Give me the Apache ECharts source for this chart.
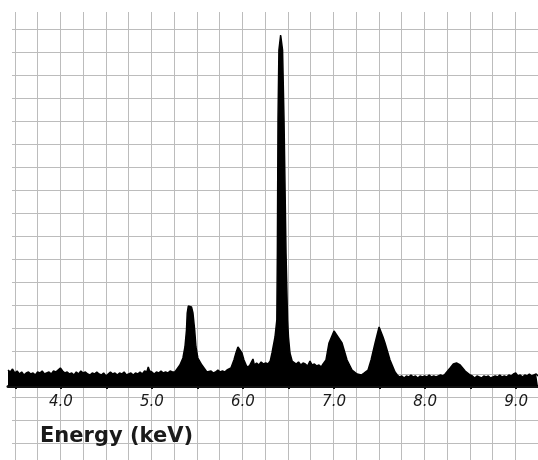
<!DOCTYPE html>
<html>
<head>
<meta charset="utf-8">
<script src="https://cdn.jsdelivr.net/npm/echarts@6/dist/echarts.min.js"></script>
<style>
html,body{margin:0;padding:0;background:#fff;}
#c{width:538px;height:460px;}
</style>
</head>
<body>
<div id="c"></div>
<script>
// Energy (keV) of each sampled point of the spectrum
var energy = [
  3.42,3.445,3.47,3.495,3.52,3.545,3.57,3.595,3.62,3.645,3.67,3.695,3.72,3.745,3.77,3.795,3.82,3.845,3.87,3.895,
  3.92,3.945,3.97,3.995,4.02,4.045,4.07,4.095,4.12,4.145,4.17,4.195,4.22,4.245,4.27,4.295,4.32,4.345,4.37,4.395,
  4.42,4.445,4.47,4.495,4.52,4.545,4.57,4.595,4.62,4.645,4.67,4.695,4.72,4.745,4.77,4.795,4.82,4.845,4.87,4.895,
  4.92,4.945,4.96,4.975,5.00,5.025,5.05,5.075,5.10,5.125,5.15,5.175,5.20,5.225,
  5.253,5.308,5.341,5.363,5.380,5.388,5.400,5.418,5.435,5.451,5.470,5.484,5.505,5.549,5.604,
  5.625,5.65,5.675,5.70,5.725,5.75,5.775,5.80,5.825,5.845,
  5.868,5.901,5.923,5.945,5.989,6.011,6.044,
  6.07,6.09,6.11,6.125,6.15,6.175,6.20,6.225,6.25,6.275,6.30,
  6.319,6.352,6.372,6.378,6.385,6.395,6.414,6.435,6.451,6.473,6.490,6.500,6.516,6.540,
  6.56,6.585,6.61,6.635,6.66,6.685,6.71,6.736,6.76,6.785,6.81,6.835,6.86,6.88,
  6.901,6.912,6.945,7.000,7.044,7.088,7.143,7.198,7.253,
  7.27,7.30,7.33,7.374,7.407,7.451,7.495,7.538,7.560,7.615,7.670,
  7.695,7.72,7.745,7.77,7.795,7.82,7.845,7.87,7.895,7.92,7.945,7.97,7.995,8.02,8.045,8.07,8.095,8.12,8.145,8.17,8.195,
  8.22,8.275,8.31,8.345,8.385,8.44,8.495,
  8.52,8.545,8.57,8.595,8.62,8.645,8.67,8.695,8.72,8.745,8.77,8.795,8.82,8.845,8.87,8.895,8.92,8.945,8.97,8.995,
  9.02,9.045,9.07,9.095,9.12,9.145,9.17,9.195,9.22,9.24
];
// Counts (arbitrary units)
var counts = [
  16,14,17,13,15,12,14,11,13,14,12,13,11,14,13,15,12,13,14,12,
  15,14,16,18,15,13,14,12,13,11,14,12,15,13,14,12,11,13,12,14,
  12,11,13,10,12,14,12,13,11,13,12,14,11,12,13,11,13,12,14,12,
  15,14,19,15,14,12,14,13,15,13,14,13,15,14,
  14,21,28,39,56,73,80,82,79,73,56,39,28,21,14,
  13,15,13,14,16,14,15,14,16,15,
  18,26,33,39,33,26,19,
  20,22,27,21,23,21,24,22,23,22,25,
  33,49,66,133,266,336,351,336,266,133,66,49,33,25,
  24,22,24,21,23,22,20,25,21,22,20,21,19,22,
  23,26,43,55,49,43,26,16,12,
  13,11,13,16,26,43,59,49,43,26,14,
  11,9,10,8,10,9,11,9,10,8,10,9,10,9,11,9,10,9,10,11,10,
  12,18,22,23,21,15,11,
  10,8,10,9,8,10,9,10,8,9,10,9,11,9,10,9,11,10,12,13,
  10,11,9,11,10,12,10,11,12,10
];
var tickValues = [3.5,4.0,4.5,5.0,5.5,6.0,6.5,7.0,7.5,8.0,8.5,9.0];
var labelValues = [4.0,5.0,6.0,7.0,8.0,9.0];
var axisTitle = 'Energy (keV)';

var points = energy.map(function(e,i){ return [e, counts[i]]; });
var paper = '#bcbcbc';

var chart = echarts.init(document.getElementById('c'), null, {renderer:'canvas'});
chart.setOption({
  animation: false,
  backgroundColor: '#ffffff',
  grid: [
    {left: 8, right: 0, top: 26, bottom: 74},
    {left: 15, right: 0, top: 12, bottom: 0},
    {left: 12, right: 0, top: 29, bottom: 17}
  ],
  xAxis: [
    {
      gridIndex: 0, type: 'value', min: 3.42, max: 9.24,
      splitLine: {show: false},
      axisLine: {show: true, onZero: false, lineStyle: {color: '#111', width: 3}},
      axisTick: {show: true, inside: false, length: 3, customValues: tickValues, lineStyle: {color: '#111', width: 2}},
      axisLabel: {
        show: true, customValues: labelValues, margin: 9,
        formatter: function(v){ return v.toFixed(1); },
        color: '#1a1a1a', fontFamily: 'DejaVu Sans', fontStyle: 'italic', fontSize: 15
      }
    },
    {
      gridIndex: 1, type: 'value', min: 3.5, max: 9.25, interval: 0.25,
      axisLine: {show: false}, axisTick: {show: false}, axisLabel: {show: false},
      splitLine: {show: true, lineStyle: {color: paper, width: 1}}
    },
    {
      gridIndex: 2, type: 'value', min: 0, max: 1, show: false
    }
  ],
  yAxis: [
    {gridIndex: 0, type: 'value', min: 0, max: 360, show: false},
    {gridIndex: 1, type: 'value', min: 0, max: 1, show: false},
    {
      gridIndex: 2, type: 'value', min: 0, max: 18, interval: 1,
      axisLine: {show: false}, axisTick: {show: false}, axisLabel: {show: false},
      splitLine: {show: true, lineStyle: {color: paper, width: 1}}
    }
  ],
  graphic: [
    {
      type: 'text', left: 40, top: 426, z: 10,
      style: {text: axisTitle, fill: '#1a1a1a', font: 'bold 21px "DejaVu Sans"'}
    }
  ],
  series: [
    {
      type: 'line', xAxisIndex: 0, yAxisIndex: 0, data: points,
      showSymbol: false, symbol: 'none', smooth: false, z: 5,
      lineStyle: {color: '#000', width: 1.5},
      areaStyle: {color: '#000', opacity: 1}
    }
  ]
});
</script>
</body>
</html>
